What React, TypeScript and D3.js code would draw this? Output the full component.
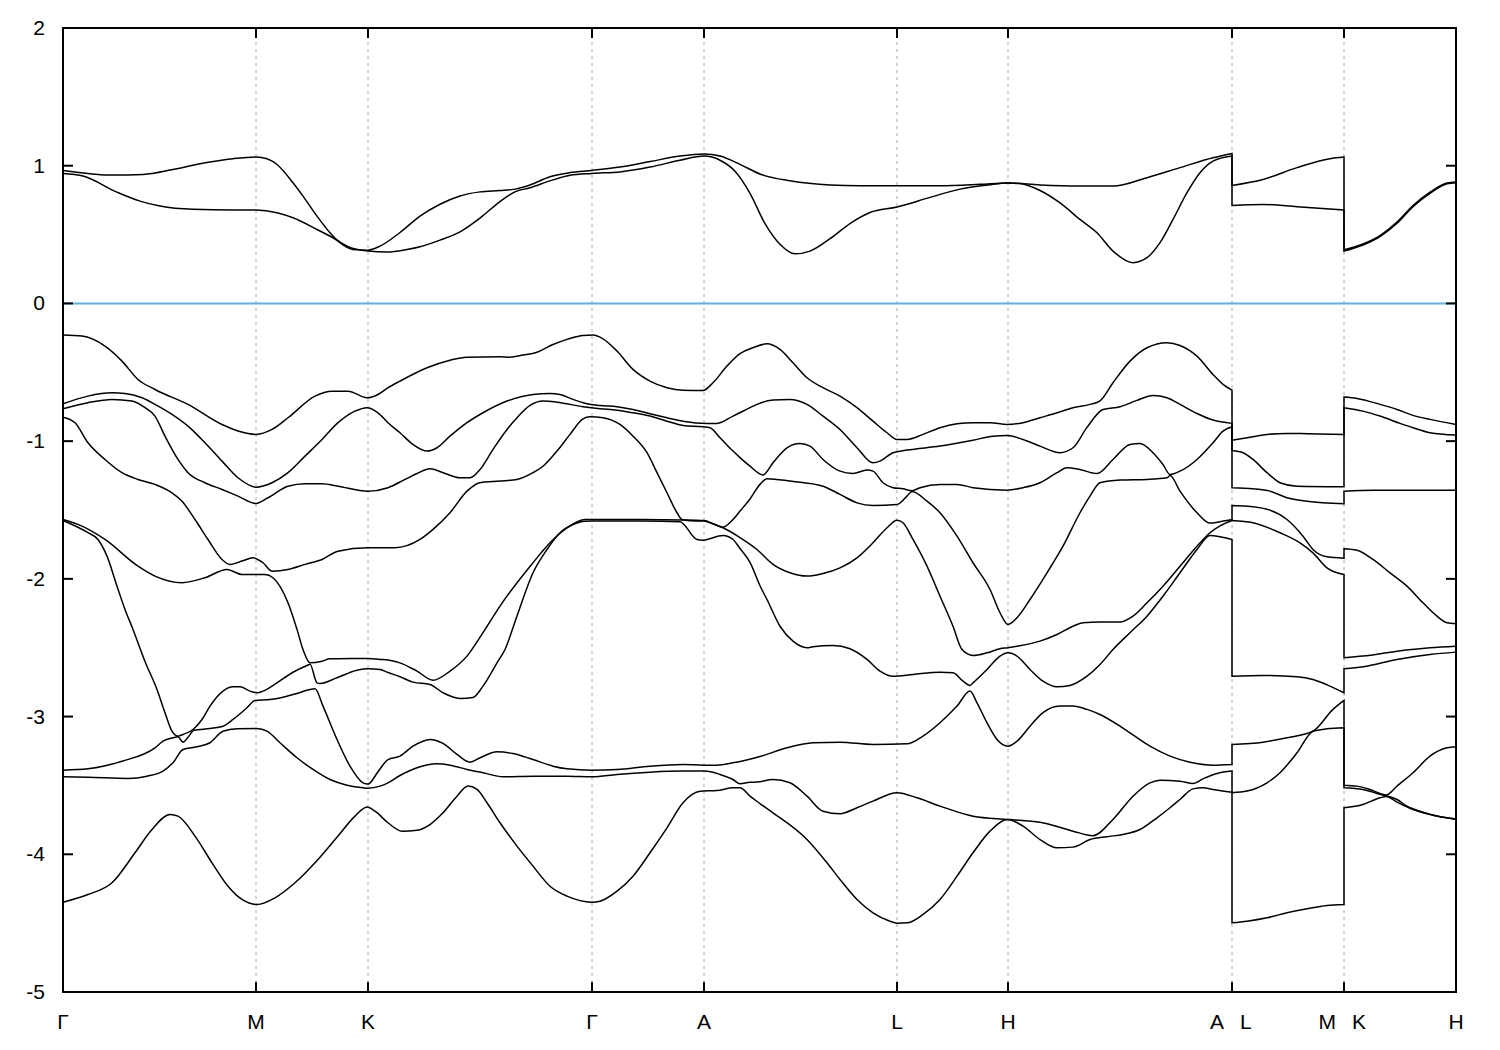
import React from "react";
import * as d3 from "d3";

// high-symmetry path: Γ–M–K–Γ–A–L–H–A | L–M | K–H
const kTicks = [0, 1.93, 3.05, 5.29, 6.41, 8.34, 9.45, 11.69, 12.81, 13.93];
const kLabels = ["Γ", "M", "K", "Γ", "A", "L", "H", "A|L", "M|K", "H"];
const eTicks = [2, 1, 0, -1, -2, -3, -4, -5];

// each band = three segments [k, E(eV)], bands sorted by energy
const cond2 = [
  [[0,0.966],[0.5,0.932],[0.8,0.937],[1.1,0.973],[1.37,1.014],[1.7,1.051],[1.93,1.063],[2.04,1.051],[2.14,1.009],[2.3,0.876],[2.4,0.779],[2.54,0.634],[2.67,0.513],[2.77,0.441],[2.9,0.392],[3.05,0.387],[3.17,0.416],[3.37,0.515],[3.57,0.634],[3.77,0.72],[3.97,0.78],[4.17,0.81],[4.37,0.82],[4.52,0.83],[4.67,0.86],[4.87,0.92],[5.07,0.95],[5.29,0.966],[5.57,0.99],[5.87,1.03],[6.17,1.07],[6.41,1.085],[6.57,1.07],[6.77,1.01],[6.97,0.94],[7.27,0.89],[7.67,0.86],[7.97,0.855],[8.34,0.855],[8.77,0.855],[9.17,0.865],[9.45,0.875],[9.77,0.86],[10.17,0.852],[10.5,0.852],[10.84,0.913],[11.17,0.986],[11.5,1.058],[11.69,1.089]],
  [[11.69,0.857],[12.0,0.9],[12.34,0.986],[12.67,1.051],[12.81,1.063]],
  [[12.81,0.39],[13.0,0.432],[13.17,0.493],[13.34,0.59],[13.5,0.711],[13.67,0.808],[13.84,0.874],[13.93,0.882]],
];
const cond1 = [
  [[0,0.944],[0.2,0.925],[0.54,0.808],[0.77,0.743],[0.97,0.707],[1.3,0.683],[1.7,0.678],[1.93,0.678],[2.14,0.659],[2.3,0.622],[2.54,0.537],[2.7,0.477],[2.84,0.416],[3.05,0.38],[3.24,0.373],[3.44,0.392],[3.57,0.412],[3.77,0.46],[3.97,0.52],[4.17,0.62],[4.37,0.74],[4.52,0.81],[4.67,0.84],[4.87,0.89],[5.07,0.93],[5.29,0.944],[5.57,0.955],[5.87,0.99],[6.17,1.04],[6.41,1.07],[6.57,1.04],[6.72,0.96],[6.87,0.8],[7.02,0.58],[7.17,0.43],[7.32,0.36],[7.47,0.38],[7.67,0.47],[7.87,0.58],[8.07,0.66],[8.34,0.7],[8.67,0.77],[8.97,0.83],[9.25,0.86],[9.45,0.875],[9.57,0.87],[9.77,0.82],[9.97,0.73],[10.17,0.61],[10.34,0.513],[10.5,0.38],[10.7,0.296],[10.84,0.332],[10.97,0.441],[11.1,0.61],[11.24,0.804],[11.37,0.949],[11.5,1.033],[11.69,1.07]],
  [[11.69,0.712],[12.0,0.719],[12.34,0.702],[12.81,0.678]],
  [[12.81,0.38],[13.0,0.424],[13.17,0.485],[13.34,0.582],[13.5,0.703],[13.67,0.8],[13.84,0.868],[13.93,0.877]],
];
const val1 = [
  [[0,-0.23],[0.19,-0.237],[0.42,-0.31],[0.59,-0.419],[0.75,-0.552],[0.92,-0.625],[1.25,-0.733],[1.59,-0.879],[1.93,-0.951],[2.09,-0.915],[2.25,-0.83],[2.52,-0.673],[2.69,-0.637],[2.85,-0.637],[3.04,-0.685],[3.15,-0.661],[3.25,-0.612],[3.37,-0.564],[3.64,-0.467],[3.87,-0.412],[4.04,-0.39],[4.37,-0.387],[4.47,-0.39],[4.6,-0.375],[4.74,-0.354],[4.9,-0.298],[5.04,-0.261],[5.2,-0.232],[5.3,-0.23],[5.4,-0.257],[5.54,-0.346],[5.7,-0.479],[5.87,-0.564],[6.04,-0.612],[6.2,-0.63],[6.4,-0.632],[6.5,-0.576],[6.64,-0.455],[6.77,-0.365],[6.9,-0.322],[7.04,-0.293],[7.17,-0.334],[7.3,-0.431],[7.44,-0.54],[7.6,-0.612],[7.77,-0.673],[7.94,-0.757],[8.1,-0.855],[8.24,-0.939],[8.34,-0.988],[8.44,-0.988],[8.6,-0.951],[8.77,-0.903],[8.94,-0.874],[9.1,-0.866],[9.27,-0.866],[9.44,-0.879],[9.6,-0.866],[9.77,-0.83],[9.94,-0.794],[10.1,-0.757],[10.27,-0.733],[10.37,-0.707],[10.5,-0.576],[10.67,-0.419],[10.84,-0.322],[11.04,-0.285],[11.17,-0.305],[11.34,-0.383],[11.5,-0.516],[11.6,-0.588],[11.69,-0.63]],
  [[11.69,-0.993],[11.84,-0.976],[12.04,-0.951],[12.24,-0.944],[12.44,-0.946],[12.81,-0.951]],
  [[12.81,-0.68],[12.94,-0.69],[13.17,-0.733],[13.34,-0.77],[13.5,-0.813],[13.67,-0.842],[13.93,-0.879]],
];
const val2 = [
  [[0,-0.729],[0.25,-0.673],[0.49,-0.649],[0.62,-0.654],[0.79,-0.685],[0.92,-0.733],[1.09,-0.806],[1.25,-0.891],[1.42,-1.012],[1.59,-1.145],[1.75,-1.266],[1.93,-1.334],[2.09,-1.302],[2.25,-1.229],[2.42,-1.109],[2.59,-0.988],[2.75,-0.866],[2.92,-0.782],[3.04,-0.757],[3.15,-0.794],[3.25,-0.866],[3.37,-0.939],[3.5,-1.024],[3.64,-1.072],[3.74,-1.048],[3.87,-0.964],[4.04,-0.866],[4.2,-0.794],[4.44,-0.709],[4.7,-0.661],[4.87,-0.654],[4.97,-0.661],[5.1,-0.697],[5.24,-0.729],[5.37,-0.741],[5.54,-0.75],[5.7,-0.77],[5.87,-0.801],[6.04,-0.83],[6.2,-0.855],[6.44,-0.871],[6.54,-0.871],[6.7,-0.818],[6.87,-0.757],[6.94,-0.733],[7.1,-0.702],[7.27,-0.697],[7.44,-0.733],[7.6,-0.818],[7.77,-0.915],[7.94,-1.048],[8.1,-1.157],[8.17,-1.145],[8.3,-1.084],[8.44,-1.065],[8.77,-1.036],[9.1,-0.993],[9.3,-0.964],[9.44,-0.959],[9.6,-0.988],[9.77,-1.036],[9.97,-1.084],[10.1,-1.048],[10.24,-0.9],[10.4,-0.77],[10.57,-0.75],[10.74,-0.704],[10.9,-0.668],[11.04,-0.685],[11.17,-0.733],[11.34,-0.799],[11.5,-0.847],[11.69,-0.871]],
  [[11.69,-1.068],[11.8,-1.084],[11.9,-1.133],[12.04,-1.229],[12.17,-1.302],[12.34,-1.327],[12.81,-1.331]],
  [[12.81,-0.757],[13.0,-0.782],[13.17,-0.818],[13.37,-0.871],[13.5,-0.903],[13.67,-0.939],[13.93,-0.956]],
];
const val3 = [
  [[0,-0.765],[0.25,-0.721],[0.49,-0.697],[0.69,-0.709],[0.82,-0.757],[0.92,-0.818],[1.02,-0.964],[1.15,-1.133],[1.25,-1.229],[1.42,-1.302],[1.59,-1.351],[1.75,-1.399],[1.93,-1.452],[2.05,-1.411],[2.25,-1.327],[2.42,-1.309],[2.59,-1.309],[2.75,-1.327],[3.05,-1.363],[3.25,-1.338],[3.42,-1.278],[3.54,-1.235],[3.67,-1.2],[3.8,-1.229],[3.97,-1.266],[4.07,-1.266],[4.17,-1.206],[4.3,-1.06],[4.44,-0.915],[4.54,-0.83],[4.67,-0.741],[4.8,-0.709],[4.94,-0.717],[5.2,-0.75],[5.37,-0.765],[5.54,-0.775],[5.7,-0.794],[5.87,-0.818],[6.04,-0.855],[6.2,-0.886],[6.4,-0.896],[6.47,-0.903],[6.57,-0.975],[6.7,-1.072],[6.77,-1.12],[6.87,-1.182],[7.0,-1.245],[7.1,-1.157],[7.24,-1.048],[7.37,-1.017],[7.47,-1.036],[7.6,-1.133],[7.77,-1.218],[7.9,-1.235],[8.04,-1.21],[8.1,-1.218],[8.2,-1.302],[8.3,-1.338],[8.4,-1.346],[8.49,-1.36],[8.57,-1.338],[8.77,-1.314],[8.94,-1.314],[9.1,-1.338],[9.44,-1.356],[9.6,-1.338],[9.77,-1.302],[9.94,-1.229],[10.04,-1.193],[10.17,-1.206],[10.34,-1.235],[10.5,-1.133],[10.67,-1.024],[10.77,-1.017],[10.9,-1.084],[11.0,-1.17],[11.07,-1.242],[11.17,-1.218],[11.34,-1.133],[11.5,-1.012],[11.6,-0.927],[11.69,-0.896]],
  [[11.69,-1.338],[11.9,-1.346],[12.07,-1.363],[12.24,-1.411],[12.44,-1.436],[12.81,-1.455]],
  [[12.81,-1.363],[13.1,-1.356],[13.93,-1.356]],
];
const val4 = [
  [[0,-0.826],[0.12,-0.866],[0.25,-1.012],[0.42,-1.133],[0.59,-1.229],[0.75,-1.278],[0.92,-1.314],[1.09,-1.375],[1.19,-1.436],[1.32,-1.569],[1.45,-1.714],[1.59,-1.859],[1.67,-1.895],[1.79,-1.871],[1.9,-1.847],[2.0,-1.883],[2.09,-1.944],[2.25,-1.932],[2.42,-1.895],[2.59,-1.859],[2.75,-1.799],[3.05,-1.774],[3.32,-1.774],[3.57,-1.714],[3.7,-1.641],[3.87,-1.52],[4.04,-1.363],[4.17,-1.302],[4.37,-1.29],[4.54,-1.278],[4.7,-1.229],[4.8,-1.182],[4.94,-1.072],[5.07,-0.951],[5.2,-0.838],[5.27,-0.823],[5.4,-0.83],[5.57,-0.879],[5.7,-0.964],[5.84,-1.084],[5.94,-1.229],[6.04,-1.375],[6.14,-1.52],[6.19,-1.569],[6.27,-1.578],[6.41,-1.58],[6.5,-1.6],[6.6,-1.625],[6.7,-1.569],[6.77,-1.508],[6.87,-1.42],[6.97,-1.314],[7.04,-1.273],[7.27,-1.29],[7.6,-1.327],[7.77,-1.387],[7.94,-1.448],[8.1,-1.467],[8.34,-1.46],[8.44,-1.399],[8.49,-1.365],[8.64,-1.436],[8.77,-1.52],[8.94,-1.69],[9.1,-1.883],[9.27,-2.077],[9.37,-2.246],[9.45,-2.331],[9.54,-2.283],[9.67,-2.15],[9.84,-1.956],[10.0,-1.763],[10.17,-1.52],[10.27,-1.399],[10.37,-1.302],[10.57,-1.283],[10.84,-1.278],[11.04,-1.266],[11.07,-1.25],[11.17,-1.363],[11.34,-1.52],[11.47,-1.595],[11.57,-1.585],[11.69,-1.569]],
  [[11.69,-1.467],[11.84,-1.472],[12.07,-1.501],[12.24,-1.569],[12.4,-1.69],[12.5,-1.787],[12.64,-1.84],[12.81,-1.85]],
  [[12.81,-1.781],[12.94,-1.792],[13.1,-1.859],[13.27,-1.956],[13.44,-2.053],[13.6,-2.174],[13.74,-2.271],[13.84,-2.319],[13.93,-2.326]],
];
const val5 = [
  [[0,-1.569],[0.19,-1.617],[0.42,-1.714],[0.75,-1.908],[0.92,-1.98],[1.19,-2.028],[1.42,-1.992],[1.64,-1.932],[1.79,-1.968],[2.02,-1.968],[2.1,-1.992],[2.25,-2.174],[2.34,-2.367],[2.4,-2.513],[2.47,-2.61],[2.59,-2.598],[2.67,-2.58],[2.75,-2.58],[3.05,-2.578],[3.17,-2.585],[3.25,-2.59],[3.37,-2.61],[3.54,-2.67],[3.7,-2.736],[3.87,-2.67],[4.04,-2.561],[4.2,-2.391],[4.37,-2.198],[4.7,-1.883],[4.87,-1.738],[5.04,-1.629],[5.22,-1.569],[5.29,-1.569],[5.8,-1.569],[6.19,-1.572],[6.41,-1.577],[6.5,-1.6],[6.6,-1.629],[6.77,-1.7],[6.94,-1.787],[7.1,-1.895],[7.27,-1.956],[7.44,-1.98],[7.6,-1.961],[7.77,-1.92],[7.94,-1.847],[8.1,-1.738],[8.24,-1.629],[8.34,-1.574],[8.4,-1.593],[8.5,-1.714],[8.64,-1.908],[8.77,-2.126],[8.9,-2.344],[8.99,-2.513],[9.1,-2.556],[9.24,-2.537],[9.37,-2.508],[9.45,-2.5],[9.54,-2.489],[9.77,-2.452],[9.94,-2.404],[10.1,-2.344],[10.2,-2.319],[10.37,-2.314],[10.57,-2.314],[10.7,-2.271],[10.84,-2.174],[11.0,-2.053],[11.17,-1.908],[11.34,-1.763],[11.47,-1.665],[11.57,-1.615],[11.69,-1.576]],
  [[11.69,-1.576],[11.9,-1.593],[12.17,-1.665],[12.37,-1.738],[12.5,-1.811],[12.64,-1.92],[12.81,-1.968]],
  [[12.81,-2.573],[13.0,-2.561],[13.34,-2.525],[13.67,-2.5],[13.93,-2.489]],
];
const val6 = [
  [[0,-1.576],[0.25,-1.665],[0.35,-1.714],[0.44,-1.835],[0.54,-2.053],[0.62,-2.222],[0.7,-2.367],[0.82,-2.6],[0.94,-2.803],[1.02,-2.972],[1.09,-3.106],[1.15,-3.142],[1.2,-3.13],[1.3,-3.094],[1.39,-3.021],[1.47,-2.924],[1.6,-2.815],[1.7,-2.784],[1.77,-2.784],[1.87,-2.815],[1.94,-2.827],[2.0,-2.815],[2.14,-2.755],[2.3,-2.678],[2.44,-2.629],[2.47,-2.62],[2.54,-2.755],[2.57,-2.76],[2.74,-2.718],[2.94,-2.663],[3.05,-2.653],[3.17,-2.658],[3.25,-2.68],[3.37,-2.711],[3.5,-2.75],[3.67,-2.767],[3.8,-2.827],[3.97,-2.868],[4.1,-2.861],[4.2,-2.779],[4.34,-2.61],[4.42,-2.513],[4.54,-2.27],[4.7,-1.956],[4.84,-1.787],[4.97,-1.665],[5.1,-1.605],[5.22,-1.581],[5.29,-1.58],[5.8,-1.58],[6.17,-1.585],[6.34,-1.714],[6.4,-1.719],[6.6,-1.685],[6.7,-1.714],[6.77,-1.78],[6.87,-1.88],[6.97,-2.05],[7.04,-2.15],[7.17,-2.344],[7.3,-2.452],[7.44,-2.5],[7.5,-2.493],[7.7,-2.484],[7.87,-2.508],[8.04,-2.585],[8.17,-2.67],[8.3,-2.707],[8.5,-2.694],[8.77,-2.678],[8.9,-2.682],[9.0,-2.743],[9.07,-2.774],[9.1,-2.755],[9.24,-2.658],[9.37,-2.561],[9.45,-2.537],[9.54,-2.561],[9.67,-2.658],[9.8,-2.743],[9.94,-2.784],[10.07,-2.774],[10.24,-2.707],[10.37,-2.622],[10.5,-2.513],[10.67,-2.391],[10.84,-2.271],[11.0,-2.126],[11.17,-1.956],[11.34,-1.787],[11.47,-1.685],[11.57,-1.694],[11.69,-1.714]],
  [[11.69,-2.707],[12.0,-2.701],[12.34,-2.711],[12.5,-2.731],[12.67,-2.779],[12.81,-2.827]],
  [[12.81,-2.653],[13.0,-2.639],[13.34,-2.585],[13.67,-2.549],[13.93,-2.532]],
];
const val7 = [
  [[0,-3.389],[0.25,-3.379],[0.59,-3.324],[0.92,-3.227],[1.0,-3.179],[1.1,-3.154],[1.15,-3.147],[1.2,-3.186],[1.25,-3.15],[1.31,-3.1],[1.47,-3.087],[1.6,-3.07],[1.7,-3.021],[1.84,-2.936],[1.92,-2.883],[2.07,-2.876],[2.2,-2.859],[2.34,-2.832],[2.52,-2.798],[2.6,-2.924],[2.74,-3.166],[2.87,-3.36],[3.0,-3.481],[3.05,-3.49],[3.15,-3.4],[3.25,-3.312],[3.37,-3.287],[3.5,-3.215],[3.67,-3.166],[3.8,-3.195],[3.94,-3.275],[4.07,-3.331],[4.17,-3.299],[4.34,-3.256],[4.5,-3.268],[4.7,-3.312],[4.9,-3.36],[5.04,-3.379],[5.29,-3.389],[5.54,-3.384],[5.87,-3.36],[6.2,-3.348],[6.41,-3.353],[6.54,-3.353],[6.7,-3.336],[6.97,-3.29],[7.24,-3.227],[7.5,-3.19],[7.77,-3.186],[8.1,-3.203],[8.44,-3.198],[8.6,-3.142],[8.77,-3.045],[8.94,-2.924],[9.07,-2.815],[9.14,-2.9],[9.24,-3.045],[9.34,-3.166],[9.45,-3.215],[9.54,-3.179],[9.67,-3.07],[9.8,-2.972],[9.97,-2.924],[10.1,-2.924],[10.24,-2.948],[10.37,-2.985],[10.57,-3.07],[10.67,-3.118],[10.87,-3.215],[11.07,-3.287],[11.27,-3.331],[11.5,-3.353],[11.69,-3.348]],
  [[11.69,-3.203],[12.0,-3.186],[12.24,-3.154],[12.5,-3.106],[12.7,-2.948],[12.81,-2.883]],
  [[12.81,-3.498],[12.94,-3.505],[13.07,-3.529],[13.17,-3.558],[13.23,-3.57],[13.34,-3.505],[13.5,-3.408],[13.67,-3.287],[13.84,-3.227],[13.93,-3.219]],
];
const val8 = [
  [[0,-3.437],[0.25,-3.44],[0.65,-3.449],[0.84,-3.433],[1.0,-3.396],[1.1,-3.336],[1.2,-3.239],[1.34,-3.219],[1.47,-3.19],[1.6,-3.106],[1.74,-3.089],[1.94,-3.087],[2.04,-3.106],[2.17,-3.19],[2.34,-3.299],[2.5,-3.384],[2.67,-3.457],[2.84,-3.498],[3.0,-3.517],[3.05,-3.52],[3.17,-3.505],[3.25,-3.481],[3.37,-3.428],[3.54,-3.372],[3.74,-3.343],[3.87,-3.353],[4.04,-3.384],[4.2,-3.408],[4.4,-3.437],[4.7,-3.433],[5.04,-3.433],[5.29,-3.437],[5.54,-3.42],[5.87,-3.404],[6.2,-3.396],[6.41,-3.396],[6.57,-3.42],[6.7,-3.457],[6.77,-3.488],[6.87,-3.477],[6.94,-3.476],[7.1,-3.457],[7.27,-3.481],[7.44,-3.578],[7.6,-3.687],[7.77,-3.706],[7.94,-3.662],[8.1,-3.614],[8.34,-3.553],[8.54,-3.59],[8.77,-3.65],[9.1,-3.723],[9.45,-3.747],[9.77,-3.767],[10.1,-3.832],[10.3,-3.865],[10.5,-3.747],[10.7,-3.578],[10.87,-3.481],[10.97,-3.462],[11.17,-3.469],[11.3,-3.486],[11.4,-3.452],[11.54,-3.413],[11.69,-3.396]],
  [[11.69,-3.553],[11.84,-3.541],[12.04,-3.481],[12.17,-3.408],[12.34,-3.263],[12.5,-3.106],[12.64,-3.089],[12.81,-3.081]],
  [[12.81,-3.517],[13.0,-3.529],[13.17,-3.565],[13.23,-3.575],[13.34,-3.602],[13.44,-3.651],[13.6,-3.694],[13.77,-3.728],[13.93,-3.743]],
];
const val9 = [
  [[0,-4.348],[0.25,-4.292],[0.49,-4.207],[0.72,-3.989],[0.89,-3.82],[1.07,-3.711],[1.15,-3.723],[1.32,-3.868],[1.49,-4.062],[1.65,-4.232],[1.79,-4.328],[1.94,-4.365],[2.12,-4.316],[2.32,-4.207],[2.55,-4.038],[2.75,-3.868],[2.92,-3.723],[3.04,-3.657],[3.12,-3.687],[3.25,-3.771],[3.39,-3.832],[3.54,-3.825],[3.67,-3.784],[3.8,-3.699],[3.94,-3.578],[4.05,-3.505],[4.14,-3.529],[4.24,-3.626],[4.37,-3.771],[4.54,-3.941],[4.7,-4.086],[4.87,-4.232],[5.04,-4.304],[5.29,-4.348],[5.37,-4.341],[5.54,-4.268],[5.7,-4.159],[5.87,-3.989],[6.04,-3.808],[6.2,-3.626],[6.37,-3.542],[6.54,-3.537],[6.7,-3.517],[6.77,-3.517],[6.87,-3.578],[6.97,-3.632],[7.1,-3.699],[7.44,-3.893],[7.64,-4.062],[7.77,-4.183],[7.94,-4.328],[8.1,-4.425],[8.27,-4.486],[8.34,-4.5],[8.44,-4.498],[8.6,-4.437],[8.77,-4.328],[8.94,-4.159],[9.1,-3.989],[9.27,-3.832],[9.45,-3.747],[9.6,-3.796],[9.77,-3.893],[9.94,-3.953],[10.1,-3.948],[10.27,-3.893],[10.44,-3.872],[10.6,-3.856],[10.77,-3.82],[10.94,-3.735],[11.07,-3.662],[11.17,-3.602],[11.3,-3.525],[11.4,-3.517],[11.5,-3.529],[11.69,-3.549]],
  [[11.69,-4.498],[11.84,-4.486],[12.04,-4.461],[12.24,-4.425],[12.44,-4.396],[12.64,-4.372],[12.81,-4.365]],
  [[12.81,-3.662],[13.0,-3.638],[13.17,-3.59],[13.23,-3.58],[13.34,-3.621],[13.5,-3.675],[13.67,-3.711],[13.93,-3.747]],
];

const bands = [cond2, cond1, val1, val2, val3, val4, val5, val6, val7, val8, val9];

const App: React.FC = () => {
  const width = 1500,
    height = 1050;
  const left = 63,
    right = 1456,
    top = 28,
    bottom = 992;

  const x = d3.scaleLinear().domain([0, 13.93]).range([left, right]);
  const y = d3.scaleLinear().domain([-5, 2]).range([bottom, top]);

  const line = d3
    .line<number[]>()
    .x((d) => x(d[0]))
    .y((d) => y(d[1]))
    .curve(d3.curveMonotoneX);

  // join the segments so the jumps at A|L and M|K are drawn as vertical lines
  const bandPath = (segs: number[][][]) =>
    segs
      .map((s, i) => {
        const d = line(s) || "";
        return i === 0 ? d : "L" + d.slice(1);
      })
      .join("");

  const font = "'Liberation Sans', Arial, sans-serif";

  return (
    <svg
      width={width}
      height={height}
      style={{ position: "absolute", left: 0, top: 0, background: "#fff" }}
    >
      {/* vertical grid at the k-points */}
      {kTicks.slice(1, -1).map((k, i) => (
        <line
          key={"g" + i}
          x1={x(k)}
          x2={x(k)}
          y1={top}
          y2={bottom}
          stroke="#a8a8a8"
          strokeWidth={1}
          strokeDasharray="3,4"
        />
      ))}

      {/* Fermi level */}
      <line x1={left} x2={right} y1={y(0)} y2={y(0)} stroke="#56b4e9" strokeWidth={2} />

      {bands.map((b, i) => (
        <path key={"b" + i} d={bandPath(b)} fill="none" stroke="#000" strokeWidth={1.5} />
      ))}

      {/* frame and ticks */}
      <rect
        x={left}
        y={top}
        width={right - left}
        height={bottom - top}
        fill="none"
        stroke="#000"
        strokeWidth={2}
      />
      {eTicks.map((e) => (
        <g key={"e" + e}>
          <line x1={left} x2={left + 10} y1={y(e)} y2={y(e)} stroke="#000" strokeWidth={2} />
          <line x1={right - 10} x2={right} y1={y(e)} y2={y(e)} stroke="#000" strokeWidth={2} />
          <text
            x={45}
            y={y(e) + 7}
            textAnchor="end"
            fontFamily={font}
            fontSize={21}
            fill="#000"
          >
            {e}
          </text>
        </g>
      ))}
      {kTicks.map((k, i) => (
        <g key={"k" + i}>
          <line x1={x(k)} x2={x(k)} y1={top} y2={top + 10} stroke="#000" strokeWidth={2} />
          <line x1={x(k)} x2={x(k)} y1={bottom - 10} y2={bottom} stroke="#000" strokeWidth={2} />
          {kLabels[i].includes("|") ? (
            <>
              <text x={x(k) - 8} y={1029} textAnchor="end" fontFamily={font} fontSize={21}>
                {kLabels[i].split("|")[0]}
              </text>
              <text x={x(k) + 8} y={1029} textAnchor="start" fontFamily={font} fontSize={21}>
                {kLabels[i].split("|")[1]}
              </text>
            </>
          ) : (
            <text x={x(k)} y={1029} textAnchor="middle" fontFamily={font} fontSize={21}>
              {kLabels[i]}
            </text>
          )}
        </g>
      ))}
    </svg>
  );
};

export default App;
